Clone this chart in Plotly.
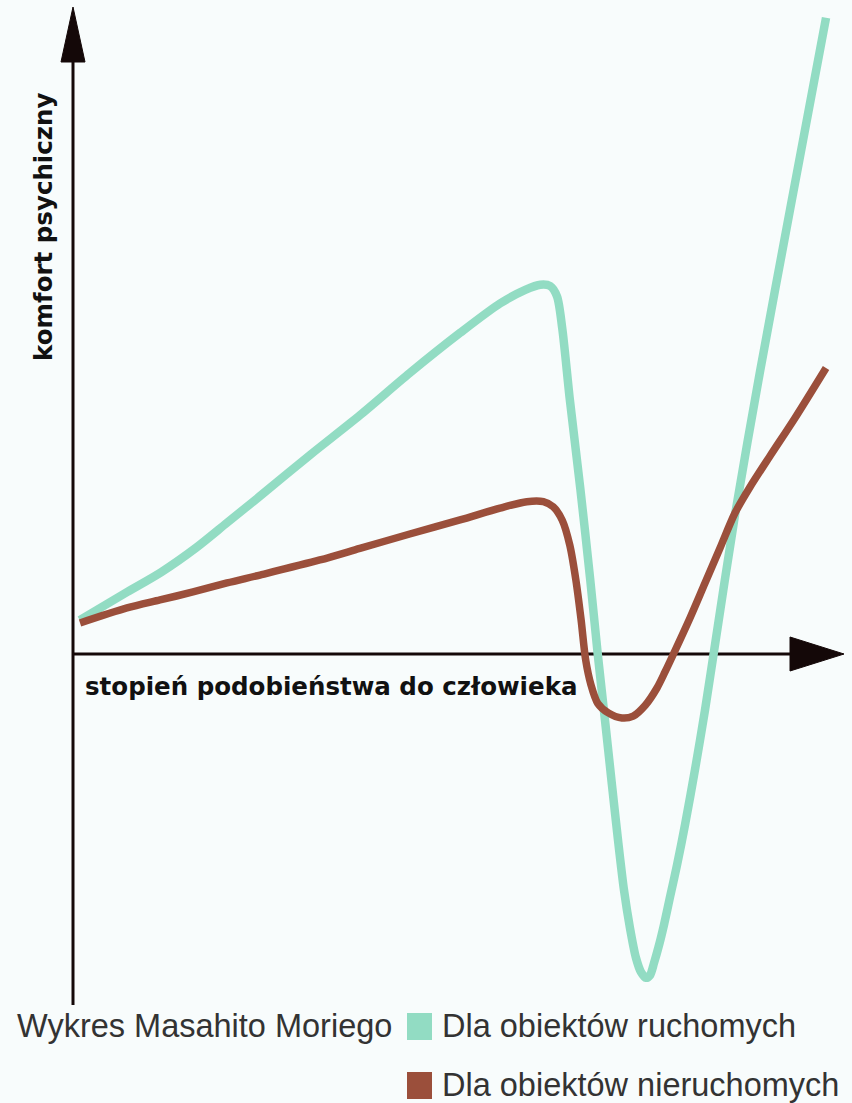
import plotly.graph_objects as go

# ---- data (x: stopień podobieństwa, y: komfort psychiczny) ----
green_x = [0.9, 7.2, 11.7, 16.3, 20.4, 24.8, 31.4, 38.0, 44.6, 51.3, 56.6, 59.9, 61.9, 63.2,
           64.1, 64.8, 65.8, 67.2, 68.5, 69.5, 70.46, 71.39, 72.19, 72.98, 73.77, 74.57, 75.23,
           75.89, 76.42, 76.95, 77.62, 78.28, 79.07, 80.0, 81.06, 82.38, 83.71, 84.77, 87.68,
           90.99, 94.97, 99.74]
green_y = [5.3, 9.7, 12.8, 16.6, 20.5, 24.7, 31.1, 37.3, 43.9, 50.2, 54.8, 56.9, 57.7, 57.5,
           55.9, 50.9, 39.8, 25.8, 11.7, 0.0, -10.3, -20.5, -29.1, -36.9, -42.8, -47.5, -49.7,
           -50.6, -50.2, -48.3, -45.5, -42.3, -38.0, -33.0, -26.7, -18.1, -8.75, -0.6, 21.7,
           44.1, 69.4, 99.4]

brown_x = [0.93, 7.15, 11.52, 15.89, 20.4, 24.77, 32.7, 38.0, 44.6, 51.26, 56.56, 60.1, 62.3,
           63.6, 64.8, 65.8, 66.6, 67.3, 67.9, 68.6, 69.5, 70.9, 72.7, 74.2, 75.8, 77.35, 78.41,
           79.47, 81.72, 83.71, 85.70, 87.68, 89.67, 92.32, 95.63, 99.74]
brown_y = [4.84, 7.19, 8.44, 9.69, 11.1, 12.34, 14.69, 16.5, 18.75, 20.94, 22.8, 23.8, 23.8,
           23.0, 20.9, 17.0, 11.6, 5.3, -0.9, -4.8, -7.7, -9.2, -10.0, -9.7, -8.0, -5.31, -2.81,
           -0.16, 5.63, 11.09, 16.56, 22.03, 26.09, 30.94, 36.88, 44.69]

x_label = "stopień podobieństwa do człowieka"
y_label = "komfort psychiczny"
title_text = "Wykres Masahito Moriego"
series_names = ["Dla obiektów ruchomych", "Dla obiektów nieruchomych"]
series_colors = ["#92dcc3", "#9b4f3b"]

# ---- layout constants ----
W, H = 852, 1103
X0_PX, Y0_PX = 73, 654      # origin in pixels
SX, SY = 7.55, 6.4           # px per unit
x_range = [-X0_PX / SX, (W - X0_PX) / SX]
y_range = [-(H - Y0_PX) / SY, Y0_PX / SY]

def px_x(p):
    return (p - X0_PX) / SX

def px_y(p):
    return (Y0_PX - p) / SY

fig = go.Figure()
fig.add_trace(go.Scatter(x=green_x, y=green_y, mode="lines", name=series_names[0],
                         line=dict(color=series_colors[0], width=8.5, shape="spline", smoothing=0.8),
                         showlegend=False))
fig.add_trace(go.Scatter(x=brown_x, y=brown_y, mode="lines", name=series_names[1],
                         line=dict(color=series_colors[1], width=7.5, shape="spline", smoothing=0.8),
                         showlegend=False))

axis_col = "#140808"
shapes = []
# y axis line
shapes.append(dict(type="line", x0=0, x1=0, y0=px_y(1005), y1=px_y(55), xref="x", yref="y",
                   line=dict(color=axis_col, width=3), layer="below"))
# x axis line
shapes.append(dict(type="line", x0=0, x1=px_x(795), y0=0, y1=0, xref="x", yref="y",
                   line=dict(color=axis_col, width=3), layer="below"))
# y arrow head
shapes.append(dict(type="path", xref="x", yref="y",
                   path=f"M {px_x(61)} {px_y(62)} L {px_x(73)} {px_y(7)} L {px_x(85)} {px_y(62)} Z",
                   fillcolor=axis_col, line=dict(color=axis_col, width=1)))
# x arrow head
shapes.append(dict(type="path", xref="x", yref="y",
                   path=f"M {px_x(790)} {px_y(637)} L {px_x(844)} {px_y(654)} L {px_x(790)} {px_y(671)} Z",
                   fillcolor=axis_col, line=dict(color=axis_col, width=1)))
# legend squares
shapes.append(dict(type="rect", xref="paper", yref="paper",
                   x0=407 / W, x1=432 / W, y0=1 - 1040 / H, y1=1 - 1013 / H,
                   fillcolor=series_colors[0], line=dict(width=0)))
shapes.append(dict(type="rect", xref="paper", yref="paper",
                   x0=407 / W, x1=432 / W, y0=1 - 1099 / H, y1=1 - 1072 / H,
                   fillcolor=series_colors[1], line=dict(width=0)))

annotations = [
    dict(text=x_label, x=px_x(331), y=px_y(686), xref="x", yref="y", showarrow=False,
         font=dict(family="DejaVu Sans", size=24.5, color="#111111", weight="bold")),
    dict(text=y_label, x=px_x(43), y=px_y(227), xref="x", yref="y", showarrow=False, textangle=-90,
         font=dict(family="DejaVu Sans", size=24.5, color="#111111", weight="bold")),
    dict(text=title_text, x=15 / W, y=1 - 1026 / H, xref="paper", yref="paper", showarrow=False,
         xanchor="left", yanchor="middle",
         font=dict(family="Liberation Sans", size=32.5, color="#333333")),
    dict(text=series_names[0], x=440 / W, y=1 - 1026 / H, xref="paper", yref="paper", showarrow=False,
         xanchor="left", yanchor="middle",
         font=dict(family="Liberation Sans", size=32.5, color="#333333")),
    dict(text=series_names[1], x=440 / W, y=1 - 1085 / H, xref="paper", yref="paper", showarrow=False,
         xanchor="left", yanchor="middle",
         font=dict(family="Liberation Sans", size=32.5, color="#333333")),
]

fig.update_layout(
    width=W, height=H, margin=dict(l=0, r=0, t=0, b=0),
    paper_bgcolor="#f8fcfc", plot_bgcolor="#f8fcfc",
    xaxis=dict(range=x_range, visible=False, fixedrange=True),
    yaxis=dict(range=y_range, visible=False, fixedrange=True),
    shapes=shapes, annotations=annotations, showlegend=False,
)

fig.write_html("out.html", config=dict(displayModeBar=False),
               post_script="document.body.style.margin='0';document.body.style.overflow='hidden';")
